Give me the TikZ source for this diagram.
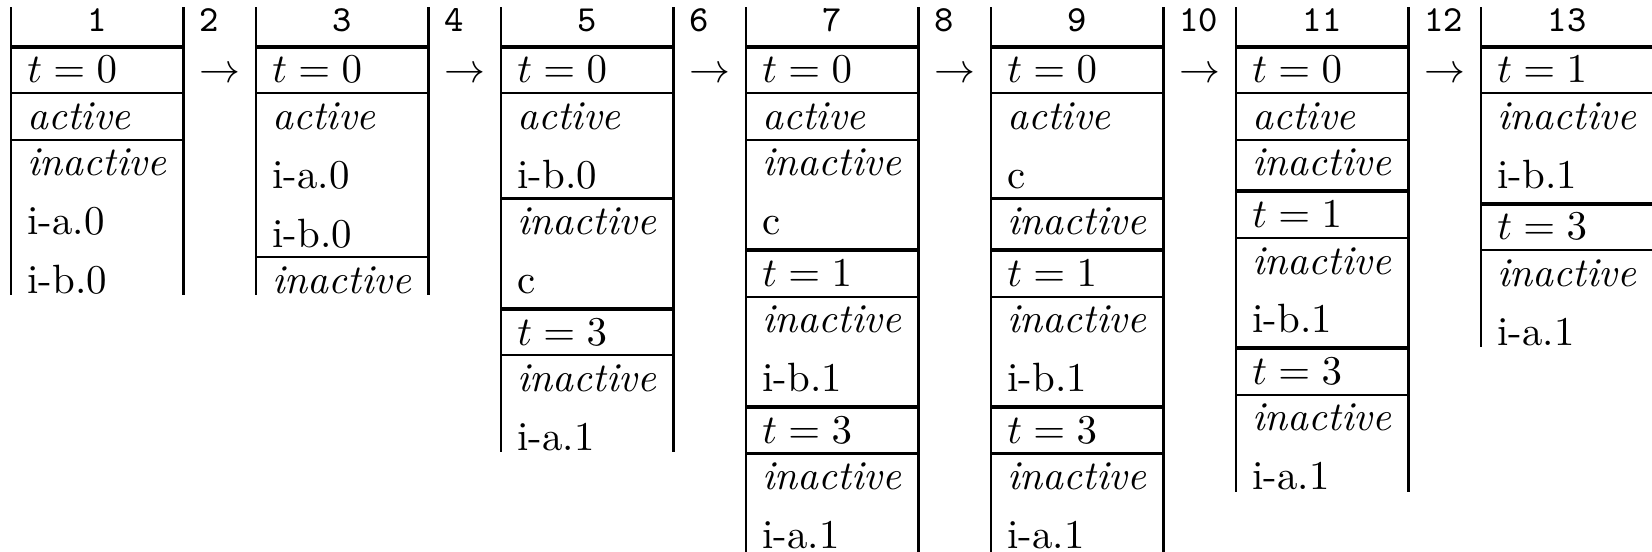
\documentclass[tikz,border=0pt]{standalone}

\tikzset{
  cell/.style={anchor=base west, inner sep=0pt},
  num/.style={anchor=base, inner sep=0pt, font=\fontsize{9}{10}\selectfont\ttfamily},
  gapnum/.style={num, anchor=base west},
  thinrule/.style={line width=0.5pt},
  thickrule/.style={line width=1pt},
}

\begin{document}
\begin{tikzpicture}[x=0.2445pt, y=-0.2445pt]
    \useasboundingbox (0,0) rectangle (1652,552);
    % column borders
    \foreach \l/\b in {11/295.5, 256/295.5, 501/452.5, 746/553, 991/553, 1236/492, 1481/347.5} {
        \draw[thinrule] (\l,7.3) -- (\l,\b);
        \draw[thinrule] (\l+172.5,7.3) -- (\l+172.5,\b);
        \draw[thickrule] (\l-1,46.7) -- (\l+173.5,46.7);
    }
    % header numbers
    \foreach \c [count=\i] in {97.25, 342.25, 587.25, 832.25, 1077.25, 1322.25, 1567.25} {
        \pgfmathtruncatemacro{\n}{2*\i-1}
        \node[num] (h\n) at (\c,31.7) {\n};
    }
    \foreach \c [count=\i] in {198.5, 443.5, 688.5, 933.5, 1178.5, 1423.5} {
        \pgfmathtruncatemacro{\n}{2*\i}
        \node[gapnum] (h\n) at (\c,31.7) {\n};
        \node[anchor=base, inner sep=0pt] (arr\n) at (\c+21.25,83) {$\rightarrow$};
    }

    % state 1
    \foreach \y in {93.2, 139.7} \draw[thinrule] (10,\y) -- (184.5,\y);
    \foreach \y/\txt [count=\i] in {83/$t=0$, 129.5/\emph{active}, 176/\emph{inactive},
        234.8/i-a.0, 293.6/i-b.0}
        \node[cell] (s1-\i) at (26.5,\y) {\txt};

    % state 3
    \foreach \y in {93.2, 257.3} \draw[thinrule] (255,\y) -- (429.5,\y);
    \foreach \y/\txt [count=\i] in {83/$t=0$, 129.5/\emph{active}, 188.3/i-a.0,
        247.1/i-b.0, 293.6/\emph{inactive}}
        \node[cell] (s3-\i) at (271.5,\y) {\txt};

    % state 5
    \foreach \y in {93.2, 198.5, 355.4} \draw[thinrule] (500,\y) -- (674.5,\y);
    \draw[thickrule] (500,308.9) -- (674.5,308.9);
    \foreach \y/\txt [count=\i] in {83/$t=0$, 129.5/\emph{active}, 188.3/i-b.0,
        234.8/\emph{inactive}, 293.6/c, 345.2/$t=3$, 391.7/\emph{inactive}, 450.5/i-a.1}
        \node[cell] (s5-\i) at (516.5,\y) {\txt};

    % state 7
    \foreach \y in {93.2, 139.7, 296.6, 453.5} \draw[thinrule] (745,\y) -- (919.5,\y);
    \foreach \y in {250.1, 407} \draw[thickrule] (745,\y) -- (919.5,\y);
    \foreach \y/\txt [count=\i] in {83/$t=0$, 129.5/\emph{active}, 176/\emph{inactive},
        234.8/c, 286.4/$t=1$, 332.9/\emph{inactive}, 391.7/i-b.1, 443.3/$t=3$,
        489.8/\emph{inactive}, 548.6/i-a.1}
        \node[cell] (s7-\i) at (761.5,\y) {\txt};

    % state 9
    \foreach \y in {93.2, 198.5, 296.6, 453.5} \draw[thinrule] (990,\y) -- (1164.5,\y);
    \foreach \y in {250.1, 407} \draw[thickrule] (990,\y) -- (1164.5,\y);
    \foreach \y/\txt [count=\i] in {83/$t=0$, 129.5/\emph{active}, 188.3/c,
        234.8/\emph{inactive}, 286.4/$t=1$, 332.9/\emph{inactive}, 391.7/i-b.1,
        443.3/$t=3$, 489.8/\emph{inactive}, 548.6/i-a.1}
        \node[cell] (s9-\i) at (1006.5,\y) {\txt};

    % state 11
    \foreach \y in {93.2, 139.7, 237.8, 394.7} \draw[thinrule] (1235,\y) -- (1409.5,\y);
    \foreach \y in {191.3, 348.2} \draw[thickrule] (1235,\y) -- (1409.5,\y);
    \foreach \y/\txt [count=\i] in {83/$t=0$, 129.5/\emph{active}, 176/\emph{inactive},
        227.6/$t=1$, 274.1/\emph{inactive}, 332.9/i-b.1, 384.5/$t=3$,
        431/\emph{inactive}, 489.8/i-a.1}
        \node[cell] (s11-\i) at (1251.5,\y) {\txt};

    % state 13
    \foreach \y in {93.2, 250.1} \draw[thinrule] (1480,\y) -- (1654.5,\y);
    \draw[thickrule] (1480,203.6) -- (1654.5,203.6);
    \foreach \y/\txt [count=\i] in {83/$t=1$, 129.5/\emph{inactive}, 188.3/i-b.1,
        239.9/$t=3$, 286.4/\emph{inactive}, 345.2/i-a.1}
        \node[cell] (s13-\i) at (1496.5,\y) {\txt};
\end{tikzpicture}
\end{document}
